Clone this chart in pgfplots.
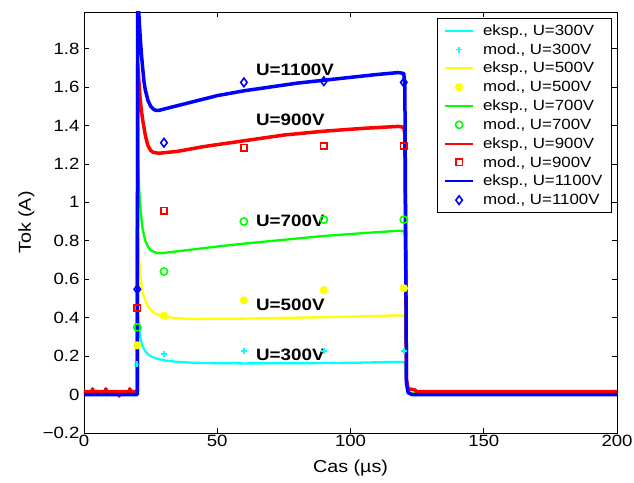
\documentclass[border=0pt]{standalone}
\usepackage{fontspec}
\setmainfont{Liberation Sans}[FakeStretch=1.14]
\usepackage{pgfplots}
\pgfplotsset{compat=1.18}

\definecolor{cC}{rgb}{0,1,1}
\definecolor{cY}{rgb}{1,1,0}
\definecolor{cG}{rgb}{0,1,0}
\definecolor{cR}{rgb}{1,0,0}
\definecolor{cB}{rgb}{0,0,1}

\pgfplotsset{
  exp line/.style={no marks, line join=round, line cap=round,
    legend image code/.code={\draw[##1, line width=2pt, line cap=butt] (0pt,0pt) -- (28pt,0pt);}},
  mod mark/.style={only marks, line width=1.6pt,
    legend image code/.code={\draw[##1] plot coordinates {(14pt,0pt)};}},
}

\begin{document}
\begin{tikzpicture}
\begin{axis}[
  at={(0pt,0pt)}, anchor=south west,
  scale only axis, width=533pt, height=421pt,
  xmin=0, xmax=200, ymin=-0.2, ymax=1.99,
  xtick={0,50,100,150,200},
  ytick={-0.2,0,0.2,0.4,0.6,0.8,1,1.2,1.4,1.6,1.8},
  yticklabels={−0.2,0,0.2,0.4,0.6,0.8,1,1.2,1.4,1.6,1.8},
  xticklabels={0,50,100,150,200},
  tick align=inside, major tick length=5pt,
  tick style={black, line width=0.6pt},
  axis line style={black, line width=0.8pt},
  ticklabel style={font=\fontsize{16.3}{19}\selectfont},
  xticklabel style={anchor=center, yshift=-8pt},
  yticklabel style={anchor=east, xshift=-1pt},
  xlabel={Cas (µs)}, ylabel={Tok (A)},
  label style={font=\fontsize{17.3}{20}\selectfont},
  xlabel style={at={(axis description cs:0.5,0)}, anchor=center, yshift=-35pt},
  ylabel style={at={(axis description cs:-0.108,0.5)}, anchor=center},
  clip=true,
  legend cell align=left,
  legend style={at={(rel axis cs:0.99,0.985)}, anchor=north east,
    font=\fontsize{14.8}{17}\selectfont, draw=black, line width=0.6pt,
    inner xsep=7pt, inner ysep=4pt, row sep=2.6pt,
    /tikz/column 1/.style={column sep=7pt}},
]
% measured currents and model points, U = 300 V
\addplot[exp line, cC, line width=2.3pt] coordinates {
 (0,0.008)(19.9,0.008)(20.0,0.008)(20.15,0.42)(20.5,0.36)(21,0.31)(21.5,0.275)
 (22,0.25)(23,0.225)(24,0.21)(25,0.20)(27,0.188)(30,0.178)(35,0.170)(40,0.166)
 (45,0.164)(60,0.162)(80,0.163)(100,0.165)(118,0.170)(120,0.168)(120.4,0.16)
 (121,0.05)(121.6,0.01)(123,0.005)(200,0.005)};
\addlegendentry{eksp., U=300V}
\addplot[mod mark, cC, mark=+, mark size=3pt] coordinates {
 (20,0.157)(30,0.21)(60,0.226)(90,0.226)(120,0.226)};
\addlegendentry{mod., U=300V}
% U = 500 V
\addplot[exp line, cY, line width=2.3pt] coordinates {
 (0,0.008)(19.9,0.008)(20.0,0.008)(20.15,0.9)(20.5,0.75)(21,0.65)(21.5,0.575)
 (22,0.53)(23,0.49)(24,0.46)(25,0.44)(27,0.42)(30,0.405)(35,0.397)(40,0.393)
 (60,0.395)(80,0.40)(100,0.405)(118,0.412)(120,0.41)(120.4,0.40)
 (121,0.06)(121.6,0.015)(123,0.006)(200,0.006)};
\addlegendentry{eksp., U=500V}
\addplot[mod mark, cY, mark=*, mark size=3.3pt] coordinates {
 (20,0.256)(30,0.41)(60,0.49)(90,0.543)(120,0.553)};
\addlegendentry{mod., U=500V}
% U = 700 V
\addplot[exp line, cG, line width=2.3pt] coordinates {
 (0,0.008)(19.9,0.008)(20.0,0.008)(20.15,1.25)(20.5,1.12)(21,1.0)(21.5,0.92)
 (22,0.86)(23,0.80)(24,0.77)(25,0.75)(27,0.738)(28,0.735)(30,0.737)(35,0.745)
 (50,0.77)(60,0.785)(75,0.805)(90,0.825)(105,0.84)(118,0.852)(120,0.85)(120.4,0.83)
 (121,0.07)(121.6,0.015)(123,0.006)(200,0.006)};
\addlegendentry{eksp., U=700V}
\addplot[mod mark, cG, mark=o, mark size=3.6pt] coordinates {
 (20,0.35)(30,0.64)(60,0.90)(90,0.91)(120,0.91)};
\addlegendentry{mod., U=700V}
% U = 900 V
\addplot[exp line, cR, line width=3.5pt] coordinates {
 (0,0.015)(3,0.015)(3.2,0.03)(3.5,0.015)(8,0.015)(8.2,0.03)(8.5,0.015)
 (13,0.015)(13.2,-0.008)(13.5,0.015)(17,0.015)(17.2,0.03)(17.5,0.015)(19.9,0.015)
 (20.0,0.015)(20.15,1.72)(20.5,1.65)(21,1.55)(21.5,1.48)(22,1.43)(22.5,1.39)
 (23,1.35)(23.5,1.32)(24,1.295)(25,1.27)(26,1.26)(28,1.255)(35,1.265)(45,1.29)
 (60,1.32)(75,1.35)(90,1.37)(105,1.385)(118,1.395)(120,1.39)(120.4,1.35)
 (121,0.08)(121.6,0.03)(124,0.025)(125,0.015)(200,0.015)};
\addlegendentry{eksp., U=900V}
\addplot[mod mark, cR, mark=square, mark size=3.2pt] coordinates {
 (20,0.45)(30,0.957)(60,1.285)(90,1.293)(120,1.293)};
\addlegendentry{mod., U=900V}
% U = 1100 V
\addplot[exp line, cB, line width=3.5pt] coordinates {
 (0,0.0)(19.9,0.0)(20.0,0.0)(20.15,2.1)(20.5,2.0)(21,1.88)(21.5,1.78)(22,1.70)
 (22.5,1.63)(23,1.585)(24,1.53)(25,1.50)(26,1.485)(27,1.478)(28,1.478)(30,1.485)
 (40,1.52)(50,1.555)(60,1.58)(70,1.60)(80,1.62)(90,1.635)(100,1.65)(110,1.665)
 (118,1.675)(120,1.67)(120.4,1.60)(121,0.06)(121.6,0.01)(123,0.0)(200,0.0)};
\addlegendentry{eksp., U=1100V}
\addplot[mod mark, cB, mark=diamond, mark size=4.3pt] coordinates {
 (20,0.548)(30,1.31)(60,1.624)(90,1.63)(120,1.624)};
\addlegendentry{mod., U=1100V}

% curve labels
\begin{scope}[every node/.style={anchor=west, inner sep=0pt,
    font=\bfseries\fontsize{16.5}{19}\selectfont}]
\node at (axis cs:64.5,1.69) {U=1100V};
\node at (axis cs:64.5,1.427) {U=900V};
\node at (axis cs:64.5,0.903) {U=700V};
\node at (axis cs:64.5,0.465) {U=500V};
\node at (axis cs:64.5,0.209) {U=300V};
\end{scope}
\end{axis}
\pgfresetboundingbox
\useasboundingbox (-84pt,-49pt) rectangle (550pt,433pt);
\end{tikzpicture}
\end{document}
